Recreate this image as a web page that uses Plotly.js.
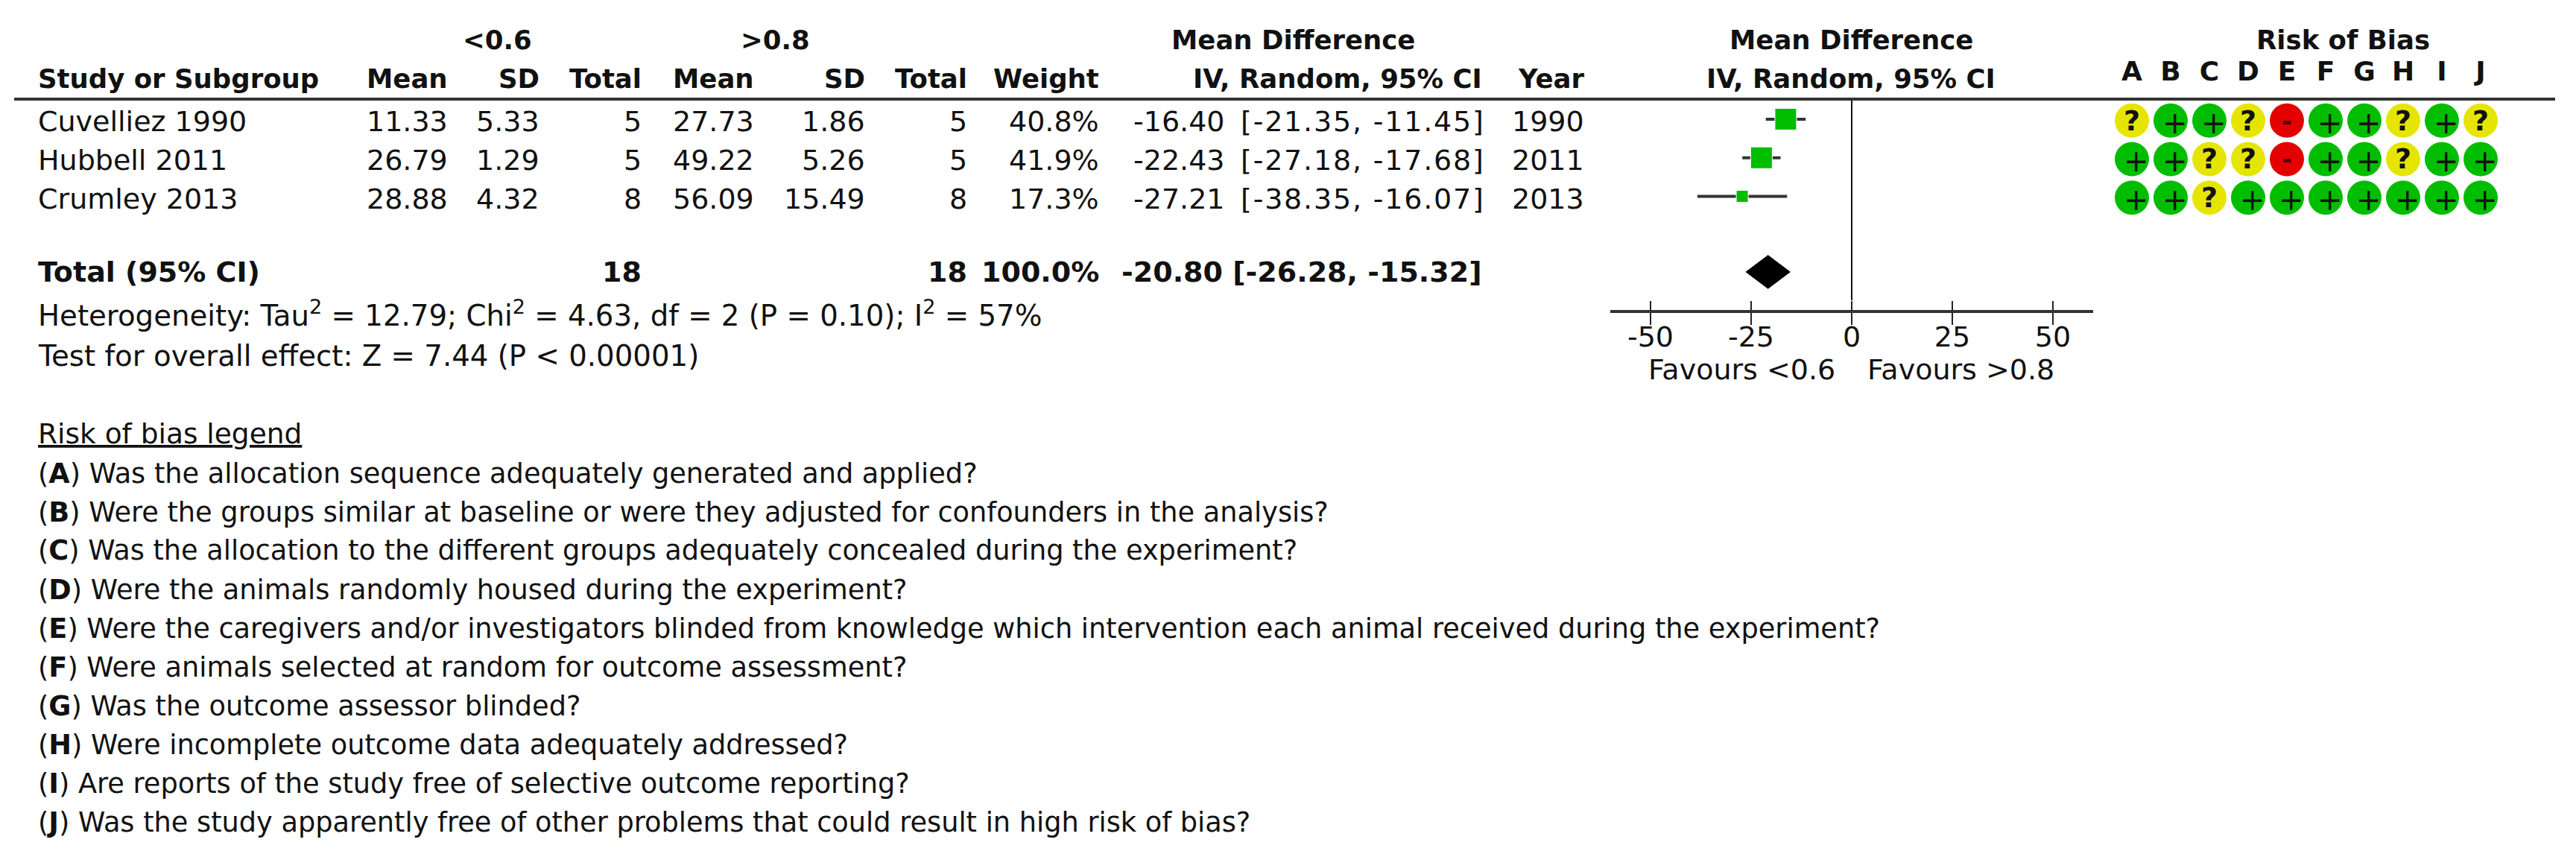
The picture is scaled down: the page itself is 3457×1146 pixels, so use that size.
<!DOCTYPE html>
<html>
<head>
<meta charset="utf-8">
<script src="https://cdn.plot.ly/plotly-3.0.1.min.js"></script>
<style>html,body{margin:0;padding:0;background:#fff}</style>
</head>
<body>
<div id="chart" style="width:3457px;height:1146px"></div>
<script>
// ---------- data ----------
const studies = ["Cuvelliez 1990", "Hubbell 2011", "Crumley 2013"];
const mean1 = ["11.33", "26.79", "28.88"];
const sd1 = ["5.33", "1.29", "4.32"];
const total1 = ["5", "5", "8"];
const mean2 = ["27.73", "49.22", "56.09"];
const sd2 = ["1.86", "5.26", "15.49"];
const total2 = ["5", "5", "8"];
const weights = ["40.8%", "41.9%", "17.3%"];
const years = ["1990", "2011", "2013"];
const md = [-16.40, -22.43, -27.21];
const ciLow = [-21.35, -27.18, -38.35];
const ciHigh = [-11.45, -17.68, -16.07];
const mdText = ["-16.40", "-22.43", "-27.21"];
const ciLowText = ["-21.35", "-27.18", "-38.35"];
const ciHighText = ["-11.45", "-17.68", "-16.07"];
const markerSizes = [29, 29, 16];
const pooled = {md: -20.80, low: -26.28, high: -15.32};
const totalLabel = "Total (95% CI)";
const totalsRow = ["18", "18", "100.0%", "-20.80 [-26.28, -15.32]"];
const axisTicks = [-50, -25, 0, 25, 50];
const axisTickText = ["-50", "-25", "0", "25", "50"];
const domains = ["A", "B", "C", "D", "E", "F", "G", "H", "I", "J"];
const bias = [
  ["?", "+", "+", "?", "-", "+", "+", "?", "+", "?"],
  ["+", "+", "?", "?", "-", "+", "+", "?", "+", "+"],
  ["+", "+", "?", "+", "+", "+", "+", "+", "+", "+"]
];
const legendItems = [
  ["A", "Was the allocation sequence adequately generated and applied?"],
  ["B", "Were the groups similar at baseline or were they adjusted for confounders in the analysis?"],
  ["C", "Was the allocation to the different groups adequately concealed during the experiment?"],
  ["D", "Were the animals randomly housed during the experiment?"],
  ["E", "Were the caregivers and/or investigators blinded from knowledge which intervention each animal received during the experiment?"],
  ["F", "Were animals selected at random for outcome assessment?"],
  ["G", "Was the outcome assessor blinded?"],
  ["H", "Were incomplete outcome data adequately addressed?"],
  ["I", "Are reports of the study free of selective outcome reporting?"],
  ["J", "Was the study apparently free of other problems that could result in high risk of bias?"]
];

// ---------- layout helpers ----------
const W = 3457, H = 1146;
const FONT = "DejaVu Sans";
const FS = 38, HEAD = 35.5, STAT = 38.7, LEG = 36.7;
const px = v => v / W;
const py = v => 1 - v / H;
const rowY = [163, 215, 267];
const annotations = [];
function txt(text, x, y, anchor, bold, size, extra) {
  annotations.push(Object.assign({
    text: bold ? "<b>" + text + "</b>" : text,
    xref: "paper", yref: "paper", x: px(x), y: py(y),
    xanchor: anchor, yanchor: "middle", showarrow: false,
    font: {family: FONT, size: size || FS, color: "#111"}
  }, extra || {}));
}

// headers
txt("&lt;0.6", 667, 53, "center", true, HEAD);
txt("&gt;0.8", 1040, 53, "center", true, HEAD);
txt("Mean Difference", 1735, 53, "center", true, HEAD);
txt("Mean Difference", 2484, 53, "center", true, HEAD);
txt("Risk of Bias", 3144, 53, "center", true, HEAD);
txt("Study or Subgroup", 49, 105, "left", true, HEAD);
const columnRights = {mean1: 603, sd1: 726, total1: 863, mean2: 1014, sd2: 1163, total2: 1300, weight: 1477, ci: 1991, year: 2128};
["Mean", "SD", "Total", "Mean", "SD", "Total", "Weight", "IV, Random, 95% CI", "Year"].forEach((h, i) => {
  txt(h, Object.values(columnRights)[i], 105, "right", true, HEAD);
});
txt("IV, Random, 95% CI", 2484, 105, "center", true, HEAD);

// study rows
studies.forEach((s, i) => {
  const y = rowY[i];
  txt(s, 49, y, "left");
  txt(mean1[i], columnRights.mean1, y, "right");
  txt(sd1[i], columnRights.sd1, y, "right");
  txt(total1[i], columnRights.total1, y, "right");
  txt(mean2[i], columnRights.mean2, y, "right");
  txt(sd2[i], columnRights.sd2, y, "right");
  txt(total2[i], columnRights.total2, y, "right");
  txt(weights[i], columnRights.weight, y, "right");
  txt(mdText[i], 1646, y, "right");
  txt('<span style="letter-spacing:1.8px">[' + ciLowText[i] + ", " + ciHighText[i] + "]</span>", columnRights.ci + 4, y, "right");
  txt(years[i], columnRights.year, y, "right");
});

// total row and statistics
txt(totalLabel, 49, 365, "left", true);
txt(totalsRow[0], columnRights.total1, 365, "right", true);
txt(totalsRow[1], columnRights.total2, 365, "right", true);
txt(totalsRow[2], columnRights.weight, 365, "right", true);
txt(totalsRow[3], columnRights.ci, 365, "right", true);
txt("Heterogeneity: Tau<sup>2</sup> = 12.79; Chi<sup>2</sup> = 4.63, df = 2 (P = 0.10); I<sup>2</sup> = 57%", 49, 421, "left", false, STAT);
txt("Test for overall effect: Z = 7.44 (P &lt; 0.00001)", 49, 477, "left", false, STAT);

// axis captions
txt("Favours &lt;0.6", 2465, 496, "right");
txt("Favours &gt;0.8", 2504, 496, "left");

// risk of bias legend
annotations.push({
  text: "Risk of bias legend", xref: "paper", yref: "paper", x: px(49), y: py(582),
  xanchor: "left", yanchor: "middle", showarrow: false,
  font: {family: FONT, size: 37.5, color: "#111", lineposition: "under"}
});
legendItems.forEach((it, i) => {
  txt("(<b>" + it[0] + "</b>) " + it[1], 49, 635 + 52 * i, "left", false, LEG);
});

// judgement glyphs in the bias grid
const glyphShift = {"+": [6, -3], "?": [0, 0], "-": [0, 0]};
bias.forEach((row, r) => row.forEach((j, c) => {
  annotations.push({
    text: j === "+" ? j : "<b>" + j + "</b>", xref: "x2", yref: "y2", x: domains[c], y: studies[r],
    showarrow: false, xanchor: "center", yanchor: "middle",
    xshift: glyphShift[j][0], yshift: glyphShift[j][1],
    font: {family: FONT, size: j === "-" ? 34 : (j === "+" ? 40 : 38), color: j === "-" ? "#5a0000" : "#111"}
  });
}));

// ---------- traces ----------
const rowIndex = studies.map((_, i) => i);
const totalRow = 3.96, diamondHalf = 0.43;
const GREEN = "#00bd00", YELLOW = "#e5e500", RED = "#e20000";
const traces = [
  {
    type: "scatter", mode: "lines", xaxis: "x", yaxis: "y", fill: "toself",
    x: [pooled.low, pooled.md, pooled.high, pooled.md, pooled.low],
    y: [totalRow, totalRow - diamondHalf, totalRow, totalRow + diamondHalf, totalRow],
    fillcolor: "#000", line: {color: "#000", width: 1}, hoverinfo: "skip", showlegend: false
  },
  {
    type: "scatter", mode: "markers", xaxis: "x", yaxis: "y", x: md, y: rowIndex,
    marker: {symbol: "square", size: markerSizes, color: GREEN, opacity: 1},
    error_x: {type: "data", symmetric: false,
      array: ciHigh.map((v, i) => v - md[i]), arrayminus: md.map((v, i) => v - ciLow[i]),
      color: "#333", thickness: 4, width: 0},
    showlegend: false
  }
];
const biasColor = {"+": GREEN, "?": YELLOW, "-": RED};
traces.push({
  type: "scatter", mode: "markers", xaxis: "x2", yaxis: "y2",
  x: bias.flatMap(row => row.map((_, c) => domains[c])),
  y: bias.flatMap((row, r) => row.map(() => studies[r])),
  marker: {symbol: "circle", size: 46, color: bias.flat().map(j => biasColor[j]), opacity: 1},
  showlegend: false
});

// ---------- layout ----------
const layout = {
  width: W, height: H, margin: {l: 0, r: 0, t: 0, b: 0},
  paper_bgcolor: "#fff", plot_bgcolor: "rgba(0,0,0,0)",
  showlegend: false, annotations: annotations,
  xaxis: {
    domain: [px(2161), px(2809)], range: [-60, 60], anchor: "y",
    tickmode: "array", tickvals: axisTicks, ticktext: axisTickText,
    ticks: "outside", ticklen: 32, tickwidth: 2, tickcolor: "#222", ticklabelstandoff: -17,
    showgrid: false, showline: false, zeroline: true, zerolinecolor: "#111", zerolinewidth: 2,
    tickfont: {family: FONT, size: FS, color: "#111"}, fixedrange: true
  },
  yaxis: {
    domain: [py(403), py(133)], range: [4.696, -0.52], anchor: "x",
    visible: false, fixedrange: true
  },
  xaxis2: {
    domain: [px(2835), px(3355)], range: [-0.5, 9.5], anchor: "y2", side: "top",
    type: "category", categoryorder: "array", categoryarray: domains,
    tickmode: "array", tickvals: domains, ticktext: domains,
    ticks: "outside", ticklen: 13, tickcolor: "rgba(0,0,0,0)",
    showgrid: false, showline: false, zeroline: false,
    tickfont: {family: FONT, size: 36, color: "#111", weight: "bold"}, fixedrange: true
  },
  yaxis2: {
    domain: [py(291), py(136)], range: [2.5, -0.5], anchor: "x2",
    type: "category", categoryorder: "array", categoryarray: studies,
    visible: false, fixedrange: true
  },
  shapes: [
    {type: "line", xref: "paper", yref: "paper", x0: px(19), x1: px(3429), y0: py(133), y1: py(133), line: {color: "#333", width: 4}},
    {type: "line", xref: "x domain", yref: "paper", x0: 0, x1: 1, y0: py(418), y1: py(418), line: {color: "#333", width: 4}}
  ]
};
Plotly.newPlot("chart", traces, layout, {displayModeBar: false, staticPlot: true});
</script>
</body>
</html>
